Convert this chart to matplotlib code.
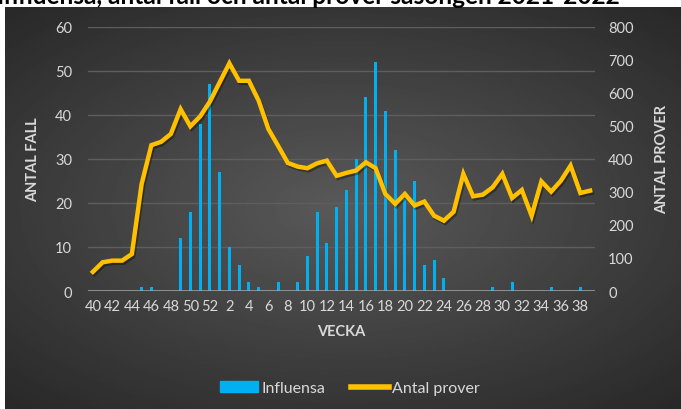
import numpy as np
import matplotlib.pyplot as plt
import matplotlib.patheffects as pe
from matplotlib.lines import Line2D
from matplotlib.patches import Patch

plt.rcParams['font.family'] = ['Lato', 'DejaVu Sans']

# weeks 40-52 and 1-39, season 2021-2022
weeks = list(range(40, 53)) + list(range(1, 40))
influensa = [0, 0, 0, 0, 0, 1, 1, 0, 0, 12, 18, 38, 47,
             27, 10, 6, 2, 1, 0, 2, 0, 2, 8, 18, 11, 19, 23, 30, 44, 52, 41, 32, 21,
             25, 6, 7, 3, 0, 0, 0, 0, 1, 0, 2, 0, 0, 0, 1, 0, 0, 1, 0]
antal_prover = [58, 87, 92, 92, 112, 324, 442, 452, 476, 551, 499, 529, 574,
                632, 690, 637, 637, 577, 491, 440, 388, 377, 372, 387, 395, 349, 358,
                365, 390, 372, 294, 264, 294, 259, 271, 228, 213, 240, 355, 287, 292,
                314, 355, 282, 306, 228, 332, 301, 334, 380, 297, 304]
tick_labels = [str(w) if w % 2 == 0 else '' for w in weeks]

fig = plt.figure(figsize=(6.81, 4.10), dpi=100)
fig.patch.set_facecolor('white')

# dark radial gradient background
bg = fig.add_axes([5/681, 0, 676/681, 402/410])
yy, xx = np.mgrid[-1:1:300j, -1:1:500j]
r = np.sqrt((xx*0.95)**2 + (yy*1.05)**2)
bg.imshow(0.35 - 0.19*np.clip(r, 0, 1.4)/1.4, cmap='gray', vmin=0, vmax=1,
          aspect='auto', extent=[0, 1, 0, 1])
bg.set_axis_off()

fig.text(-0.004, 406.5/410, 'Influensa, antal fall och antal prover säsongen 2021-2022',
         fontsize=17.6, fontweight='bold', color='black', va='baseline', ha='left')

ax = fig.add_axes([88/681, 118/410, 507/681, 264/410])
ax.set_facecolor('none')
x = np.arange(len(weeks))
ax.bar(x, influensa, width=0.3, color='#00B0F0', zorder=2)
ax.set_ylim(0, 60)
ax.set_xlim(-0.5, len(weeks) - 0.5)
ax.set_yticks(range(0, 61, 10))
ax.grid(axis='y', color='#5e5e5e', linewidth=1, zorder=0)
ax.set_axisbelow(True)
for s in ax.spines.values():
    s.set_visible(False)
ax.axhline(0, color='#a6a6a6', linewidth=1.8, zorder=3)
ax.set_xticks(x)
ax.set_xticklabels(tick_labels)
ax.tick_params(length=0, colors='#d9d9d9', labelsize=10.5)
ax.tick_params(axis='x', pad=6)
ax.tick_params(axis='y', pad=11.5)
ax.set_xlabel('VECKA', color='#d9d9d9', fontweight='bold', fontsize=10.5, labelpad=8)
ax.set_ylabel('ANTAL FALL', color='#d9d9d9', fontweight='bold', fontsize=10.5)
ax.yaxis.set_label_coords(-0.095, 0.5)

ax2 = ax.twinx()
ax2.plot(x, antal_prover, color='#FFC000', linewidth=3.2, solid_joinstyle='miter',
         zorder=4, path_effects=[pe.SimpleLineShadow(offset=(1, -1.5), shadow_color='black', alpha=0.35),
                                 pe.Normal()])
ax2.set_ylim(0, 800)
ax2.set_yticks(range(0, 801, 100))
for s in ax2.spines.values():
    s.set_visible(False)
ax2.tick_params(length=0, colors='#d9d9d9', labelsize=10.5, pad=9.5)
ax2.set_ylabel('ANTAL PROVER', color='#d9d9d9', fontweight='bold', fontsize=10.5, rotation=90)
ax2.yaxis.set_label_coords(1.118, 0.5)

handles = [Patch(color='#00B0F0'), Line2D([0], [0], color='#FFC000', linewidth=4)]
leg = fig.legend(handles, ['Influensa', 'Antal prover'], loc='center', ncol=2,
                 bbox_to_anchor=(350/681, 1 - 389/410), frameon=False, fontsize=11.5,
                 handlelength=2.4, handletextpad=0.2, columnspacing=1.6)
for t in leg.get_texts():
    t.set_color('#d9d9d9')

fig.savefig('out.png', dpi=100)
